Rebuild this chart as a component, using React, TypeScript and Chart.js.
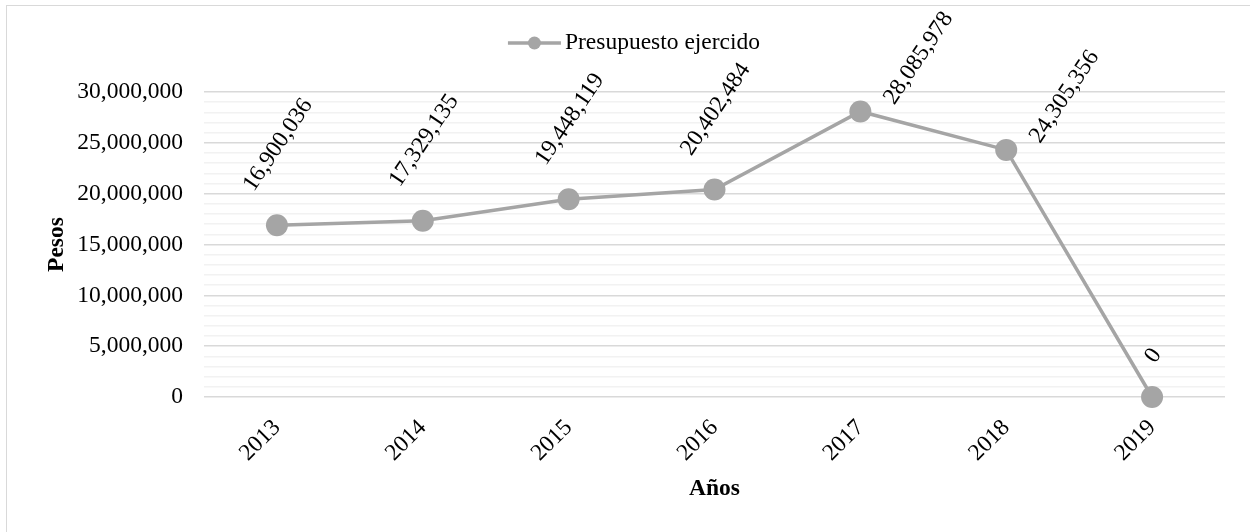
import React, { useEffect, useRef } from 'react';
import { Chart, registerables } from 'chart.js';

Chart.register(...registerables);

const years = ['2013', '2014', '2015', '2016', '2017', '2018', '2019'];
const presupuesto = [16900036, 17329135, 19448119, 20402484, 28085978, 24305356, 0];
const seriesName = 'Presupuesto ejercido';
const yMin = 0;
const yMax = 30000000;
const yMinorStep = 1000000;
const yMajorStep = 5000000;
const labelPlacement = ['above', 'above', 'above', 'above', 'right', 'right', 'above'];
const yTitle = 'Pesos';
const xTitle = 'Años';

const FONT = '"Liberation Serif", "Times New Roman", serif';
const FS = 23.5;
const LINE_COLOR = '#a5a5a5';
const fmt = (v: number) => new Intl.NumberFormat('en-US').format(v);

const W = 1244;
const H = 528;

const rotatedLabels = {
  id: 'rotatedLabels',
  afterDatasetsDraw(chart: any) {
    const ctx = chart.ctx;
    const meta = chart.getDatasetMeta(0);
    const a = (56 * Math.PI) / 180;
    meta.data.forEach((pt: any, i: number) => {
      const text = fmt(presupuesto[i]);
      ctx.save();
      ctx.font = `${FS}px ${FONT}`;
      ctx.fillStyle = '#000';
      const w = ctx.measureText(text).width;
      const h = FS * 0.66;
      const bw = w * Math.cos(a) + h * Math.sin(a);
      const bh = w * Math.sin(a) + h * Math.cos(a);
      let cx: number;
      let cy: number;
      if (labelPlacement[i] === 'right') {
        cx = pt.x + 21 + bw / 2;
        cy = pt.y - 6 - bh / 2;
      } else {
        cx = pt.x;
        cy = pt.y - 33 - bh / 2;
      }
      ctx.translate(cx, cy);
      ctx.rotate(-a);
      ctx.textAlign = 'center';
      ctx.textBaseline = 'alphabetic';
      ctx.fillText(text, 0, h / 2);
      ctx.restore();
    });
  },
};

const customLegend = {
  id: 'customLegend',
  afterDraw(chart: any) {
    const ctx = chart.ctx;
    ctx.save();
    ctx.font = `${FS}px ${FONT}`;
    const tw = ctx.measureText(seriesName).width;
    const lineLen = 53;
    const gap = 4;
    const total = lineLen + gap + tw;
    const cxc = chart.width / 2 + 5;
    const y = 37;
    const x0 = cxc - total / 2;
    ctx.strokeStyle = LINE_COLOR;
    ctx.lineWidth = 3.5;
    ctx.beginPath();
    ctx.moveTo(x0, y);
    ctx.lineTo(x0 + lineLen, y);
    ctx.stroke();
    ctx.fillStyle = LINE_COLOR;
    ctx.beginPath();
    ctx.arc(x0 + lineLen / 2, y, 6.5, 0, Math.PI * 2);
    ctx.fill();
    ctx.fillStyle = '#000';
    ctx.textAlign = 'left';
    ctx.textBaseline = 'middle';
    ctx.fillText(seriesName, x0 + lineLen + gap, y);
    ctx.restore();
  },
};

export default function App() {
  const ref = useRef<HTMLCanvasElement | null>(null);

  useEffect(() => {
    if (!ref.current) return;
    const tickFont = { family: FONT, size: FS };
    const titleFont = { family: FONT, size: FS, weight: 'bold' as const, lineHeight: 1.2 };
    const chart = new Chart(ref.current, {
      type: 'line',
      data: {
        labels: years,
        datasets: [
          {
            label: seriesName,
            data: presupuesto,
            borderColor: LINE_COLOR,
            backgroundColor: LINE_COLOR,
            borderWidth: 3.5,
            pointRadius: 11,
            pointHoverRadius: 11,
            pointBackgroundColor: LINE_COLOR,
            pointBorderWidth: 0,
            tension: 0,
            clip: false,
          },
        ],
      },
      options: {
        responsive: false,
        animation: false,
        events: [],
        layout: { padding: { left: 0, right: 26, top: 86, bottom: 0 } },
        plugins: {
          legend: { display: false },
          tooltip: { enabled: false },
        },
        scales: {
          x: {
            type: 'category',
            offset: true,
            grid: { display: false, drawTicks: false },
            border: { display: false },
            ticks: {
              minRotation: 45,
              maxRotation: 45,
              padding: 17,
              autoSkip: false,
              font: tickFont,
              color: '#000',
            },
            title: {
              display: true,
              text: xTitle,
              font: titleFont,
              color: '#000',
              padding: { top: 0, bottom: 31 },
            },
            afterFit: (s: any) => {
              s.height = 137;
            },
          },
          y: {
            min: yMin,
            max: yMax,
            grid: {
              color: (c: any) => (c.tick && c.tick.value % yMajorStep === 0 ? '#d9d9d9' : '#f2f2f2'),
              lineWidth: 1.5,
              drawTicks: false,
              tickLength: 0,
            },
            border: { display: false },
            ticks: {
              stepSize: yMinorStep,
              autoSkip: false,
              padding: 21,
              font: tickFont,
              color: '#000',
              callback: (v: any) => (Number(v) % yMajorStep === 0 ? fmt(Number(v)) : ''),
            },
            title: {
              display: true,
              text: yTitle,
              font: titleFont,
              color: '#000',
              padding: { top: 36, bottom: 0 },
            },
            afterFit: (s: any) => {
              s.width = 197;
            },
          },
        },
      },
      plugins: [rotatedLabels, customLegend],
    });
    return () => chart.destroy();
  }, []);

  return (
    <div
      style={{
        position: 'absolute',
        left: 6,
        top: 5,
        width: W,
        height: H,
        border: '1px solid #d9d9d9',
        background: '#fff',
      }}
    >
      <canvas ref={ref} width={W} height={H} style={{ display: 'block', width: W, height: H }} />
    </div>
  );
}
